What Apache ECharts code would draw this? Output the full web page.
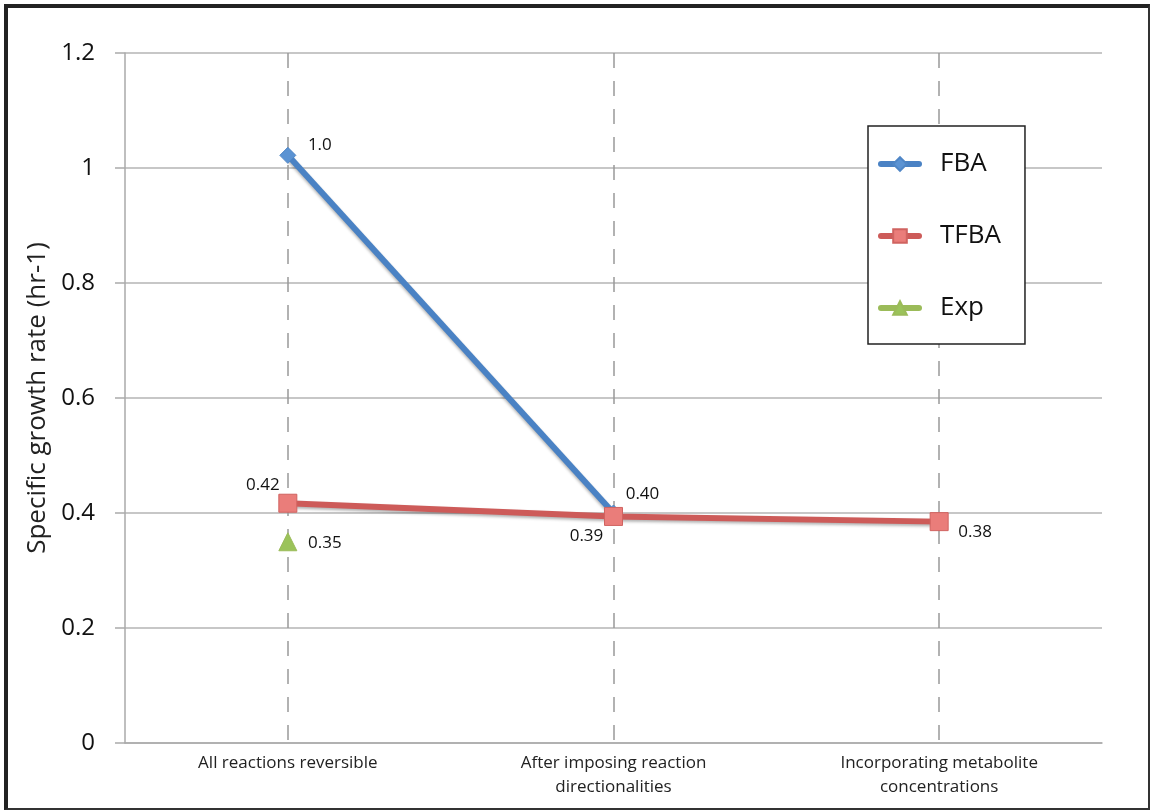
<!DOCTYPE html>
<html><head><meta charset="utf-8">
<script src="https://cdn.jsdelivr.net/npm/echarts@6/dist/echarts.min.js"></script>
<style>
html,body{margin:0;padding:0;background:#fff;}
#c{position:absolute;left:0;top:0;width:1151px;height:810px;}
#frame{position:absolute;left:4px;top:4px;width:1140px;height:800px;border-top:4px solid #222;border-left:4px solid #222;border-right:2px solid #333;border-bottom:2px solid #333;pointer-events:none;}
</style></head>
<body>
<div id="c"></div>
<div id="frame"></div>
<script>
const categories = ['All reactions reversible', 'After imposing reaction\ndirectionalities', 'Incorporating metabolite\nconcentrations'];
const fbaValues = [1.022, 0.40, null];
const tfbaValues = [0.417, 0.394, 0.385];
const expValues = [0.35, null, null];
const fbaLabels = ['1.0', '0.40', ''];
const tfbaLabels = ['0.42', '0.39', '0.38'];
const expLabels = ['0.35', '', ''];
const yTicks = [0, 0.2, 0.4, 0.6, 0.8, 1, 1.2];

const FONT = '"Open Sans", "DejaVu Sans", sans-serif';
const fbaOffsets = [[32, -10], [29, -19], [0, 0]];
const tfbaOffsets = [[-25, -18], [-27, 20], [36, 11]];
const expOffsets = [[37, 1], [0, 0], [0, 0]];

function build(values, labels, offsets) {
  return values.map((v, i) => ({
    value: v,
    label: {show: labels[i] !== '', position: 'inside', offset: offsets[i], formatter: () => labels[i]}
  }));
}
const labelStyle = {fontFamily: FONT, fontSize: 17, color: '#111'};
const shadow = {shadowBlur: 3, shadowColor: 'rgba(0,0,0,0.3)', shadowOffsetY: 2};

const chart = echarts.init(document.getElementById('c'), null, {renderer: 'canvas'});
chart.setOption({
  animation: false,
  backgroundColor: '#fff',
  grid: {left: 125, top: 53, right: 49, bottom: 67, containLabel: false},
  legend: {
    orient: 'vertical', left: 868, top: 126,
    backgroundColor: '#fff', borderColor: '#222', borderWidth: 1.5,
    padding: [22, 24, 20, 10], itemGap: 40, itemWidth: 38, itemHeight: 17,
    lineStyle: {width: 6, cap: 'round'},
    textStyle: {fontFamily: FONT, fontSize: 26, color: '#111', padding: [0, 0, 0, 16], lineHeight: 32},
    data: ['FBA', 'TFBA', 'Exp']
  },
  xAxis: {
    type: 'category', data: categories, boundaryGap: true,
    axisLine: {show: true, lineStyle: {color: '#aaa', width: 1.5}},
    axisTick: {show: false},
    splitLine: {show: true, alignWithLabel: true, lineStyle: {color: '#999', width: 1.5, type: [15, 13]}},
    axisLabel: {fontFamily: FONT, fontSize: 17, color: '#222', margin: 8, lineHeight: 24, interval: 0}
  },
  yAxis: {
    type: 'value', min: yTicks[0], max: yTicks[yTicks.length - 1], interval: 0.2,
    name: 'Specific growth rate (hr-1)', nameLocation: 'middle', nameGap: 73, nameRotate: 90,
    nameTextStyle: {fontFamily: FONT, fontSize: 26, color: '#222'},
    axisLine: {show: true, lineStyle: {color: '#aaa', width: 1.5}},
    axisTick: {show: true, length: 10, lineStyle: {color: '#aaa', width: 1.5}},
    splitLine: {show: true, lineStyle: {color: '#b5b5b5', width: 1.5}},
    axisLabel: {fontFamily: FONT, fontSize: 24, color: '#111', margin: 30}
  },
  series: [
    {
      name: 'FBA', type: 'line', data: build(fbaValues, fbaLabels, fbaOffsets),
      symbol: 'diamond', symbolSize: 16, connectNulls: false,
      lineStyle: Object.assign({color: '#4a82c4', width: 6}, shadow),
      itemStyle: {color: '#5b93d3', borderColor: '#4f86c6', borderWidth: 1},
      label: labelStyle
    },
    {
      name: 'TFBA', type: 'line', data: build(tfbaValues, tfbaLabels, tfbaOffsets),
      symbol: 'rect', symbolSize: 18,
      lineStyle: Object.assign({color: '#cd5b59', width: 6}, shadow),
      itemStyle: {color: '#ea7d7a', borderColor: '#d06360', borderWidth: 1},
      label: labelStyle
    },
    {
      name: 'Exp', type: 'line', data: build(expValues, expLabels, expOffsets),
      symbol: 'triangle', symbolSize: 18,
      lineStyle: {color: '#9bbb59', width: 6},
      itemStyle: {color: '#9bc35a', borderColor: '#9bbb59', borderWidth: 1},
      label: labelStyle
    }
  ]
});
</script>
</body></html>
